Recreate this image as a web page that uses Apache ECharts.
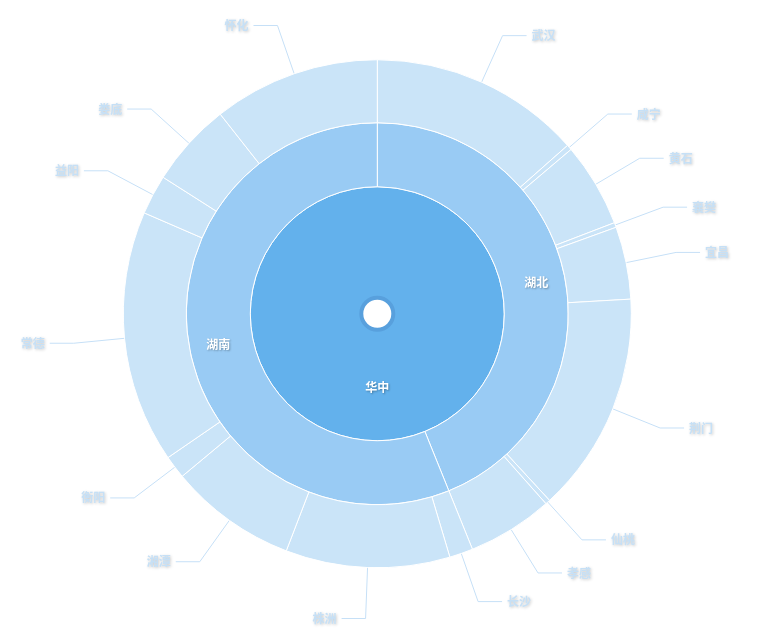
<!DOCTYPE html>
<html>
<head>
<meta charset="utf-8">
<script src="https://cdn.jsdelivr.net/npm/echarts@6/dist/echarts.min.js"></script>
<style>
  html, body { margin: 0; padding: 0; background: #fff; }
  #container { width: 770px; height: 630px; }
</style>
</head>
<body>
<div id="container"></div>
<script>
var regionName = '华中';
var provinces = ['湖北', '湖南'];
var hubeiCities = ['武汉', '咸宁', '黄石', '襄樊', '宜昌', '荆门', '仙桃', '孝感'];
var hubeiValues = [48.5, 1.2, 19.3, 1.1, 16.6, 50.6, 1.1, 19.6];
var hunanCities = ['长沙', '株洲', '湘潭', '衡阳', '常德', '益阳', '娄底', '怀化'];
var hunanValues = [5.4, 37.6, 29.2, 5.3, 57.9, 9.1, 19.3, 38.2];

function sum(arr) {
  return arr.reduce(function (a, b) { return a + b; }, 0);
}

var dom = document.getElementById('container');
var myChart = echarts.init(dom);

var innerLabel = {
  position: 'inside',
  color: '#fff',
  fontSize: 12,
  fontWeight: 'bold',
  fontFamily: 'Noto Sans CJK SC',
  textShadowColor: 'rgba(0,0,0,0.3)',
  textShadowBlur: 2,
  textShadowOffsetX: 1,
  textShadowOffsetY: 1
};

var cityData = [];
hubeiCities.forEach(function (c, i) { cityData.push({ name: c, value: hubeiValues[i] }); });
hunanCities.forEach(function (c, i) { cityData.push({ name: c, value: hunanValues[i] }); });

var option = {
  animation: false,
  series: [
    {
      // 中心小圆
      type: 'pie',
      silent: true,
      center: ['49%', '49.8%'],
      radius: [0, 16],
      label: { show: false },
      itemStyle: { color: '#fff', borderColor: '#58a0dd', borderWidth: 4 },
      data: [{ name: '', value: 1 }]
    },
    {
      type: 'pie',
      center: ['49%', '49.8%'],
      radius: [14, 127],
      z: 1,
      label: innerLabel,
      itemStyle: { color: '#63b1ec', borderColor: '#fff', borderWidth: 1 },
      data: [{ name: regionName, value: sum(hubeiValues) + sum(hunanValues) }]
    },
    {
      type: 'pie',
      center: ['49%', '49.8%'],
      radius: [127, 191],
      label: innerLabel,
      itemStyle: { color: '#99cbf4', borderColor: '#fff', borderWidth: 1 },
      data: [
        { name: provinces[0], value: sum(hubeiValues) },
        { name: provinces[1], value: sum(hunanValues) }
      ]
    },
    {
      type: 'pie',
      center: ['49%', '49.8%'],
      radius: [191, 254],
      label: {
        position: 'outside',
        color: '#c6e0f6',
        fontSize: 12,
        fontWeight: 'bold',
        fontFamily: 'Noto Sans CJK SC',
        textShadowColor: 'rgba(0,0,0,0.22)',
        textShadowBlur: 3,
        textShadowOffsetX: 1,
        textShadowOffsetY: 1
      },
      labelLine: {
        length: 51,
        length2: 24,
        lineStyle: { color: '#c6e0f7', width: 1 }
      },
      itemStyle: { color: '#cae4f8', borderColor: '#fff', borderWidth: 1 },
      data: cityData
    }
  ]
};

myChart.setOption(option);
</script>
</body>
</html>
